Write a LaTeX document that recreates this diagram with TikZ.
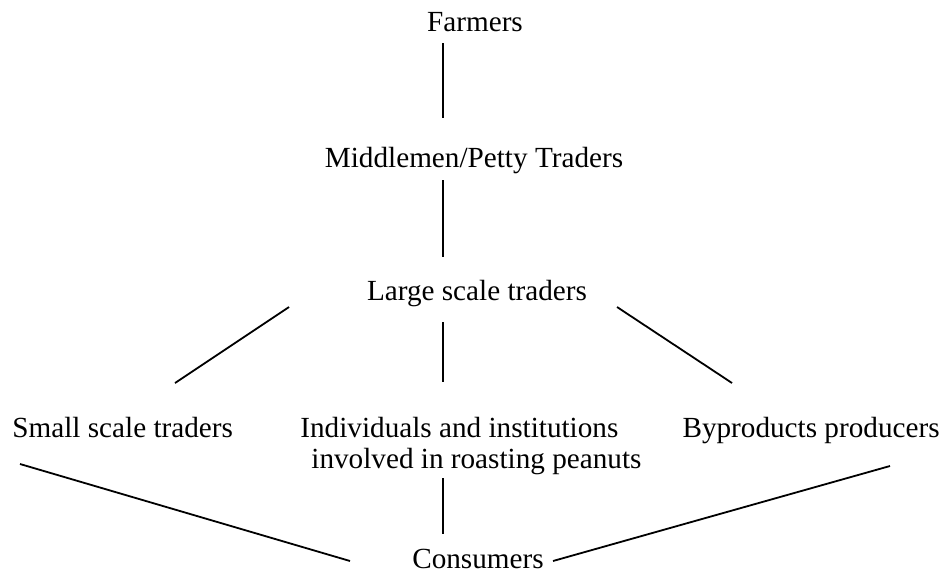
\documentclass[tikz,border=0pt]{standalone}
\usepackage{fontspec}
\setmainfont{Liberation Serif}
\usepackage{tikz}
\usetikzlibrary{positioning}

\begin{document}
\begin{tikzpicture}[x=0.5pt, y=-0.5pt,
		lbl/.style={inner sep=0pt, font=\fontsize{14.6}{15.5}\selectfont},
		link/.style={line width=0.9pt}]
			%%%%% START %%%%%
			\useasboundingbox (0, 0) rectangle (946, 573);
			
			\node[lbl, anchor=base] (farmers) at (475, 32) {Farmers};
			\node[lbl, anchor=base] (middlemen) at (474, 167) {Middlemen/Petty Traders};
			\node[lbl, anchor=base] (large) at (477, 300) {Large scale traders};
			
			\node[lbl, anchor=base west] (small) at (12, 437) {Small scale traders};
			\node[lbl, anchor=north west, align=left] (roasters) at (300, 417)
				{Individuals and institutions\\\hspace*{5.5pt}involved in roasting peanuts};
			\node[lbl, anchor=base east] (byprod) at (940, 437) {Byproducts producers};
			
			\node[lbl, anchor=base, text depth=0pt] (consumers) at (478, 568) {Consumers};
			
			% line ends
			\coordinate (f1) at (443, 43);  \coordinate (m1) at (443, 118);
			\coordinate (m2) at (443, 180); \coordinate (l1) at (443, 257);
			\coordinate (l2) at (289, 307); \coordinate (s1) at (175, 383);
			\coordinate (l3) at (443, 322); \coordinate (r1) at (443, 382);
			\coordinate (l4) at (617, 307); \coordinate (b1) at (732, 383);
			\coordinate (s2) at (20, 464);  \coordinate (c1) at (350, 561);
			\coordinate (r2) at (443, 478); \coordinate (c2) at (443, 534);
			\coordinate (b2) at (890, 466); \coordinate (c3) at (553, 561);
			
			\draw[link] (f1) -- (m1);
			\draw[link] (m2) -- (l1);
			\draw[link] (l2) -- (s1);
			\draw[link] (l3) -- (r1);
			\draw[link] (l4) -- (b1);
			\draw[link] (s2) -- (c1);
			\draw[link] (r2) -- (c2);
			\draw[link] (b2) -- (c3);
			%%%%% END %%%%%
		\end{tikzpicture}
\end{document}
